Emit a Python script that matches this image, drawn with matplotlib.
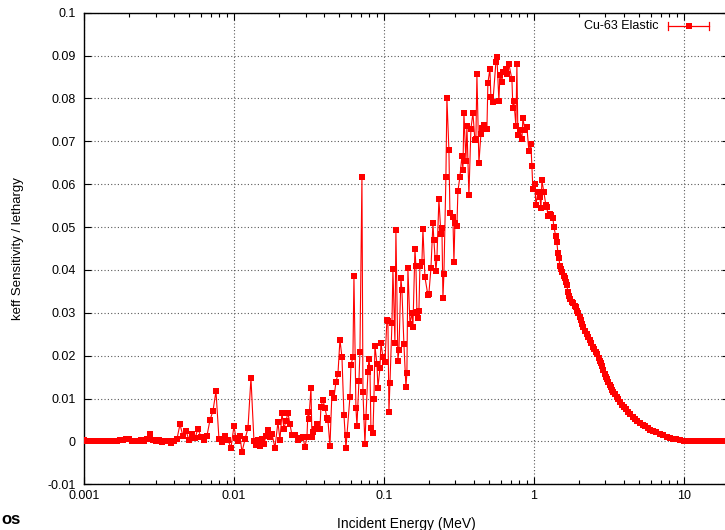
import numpy as np
import matplotlib

matplotlib.use("Agg")
import matplotlib.pyplot as plt
from matplotlib.lines import Line2D
from matplotlib.ticker import LogLocator, FuncFormatter, MultipleLocator, NullFormatter

plt.rcParams["font.family"] = ["Liberation Sans", "DejaVu Sans"]

# Cu-63 elastic keff sensitivity per unit lethargy, by incident energy (MeV)
energy_low = [0.001, 0.001047, 0.001096, 0.001148, 0.001202, 0.001259, 0.001318, 0.00138,
              0.001445, 0.001514, 0.001585, 0.00166, 0.001738, 0.00182, 0.001905, 0.001995,
              0.002089, 0.002188, 0.002291, 0.002399, 0.002512, 0.00263, 0.002754, 0.002884,
              0.00302, 0.003162, 0.003311, 0.003467, 0.003631, 0.003802, 0.003981, 0.004169,
              0.004365, 0.004571, 0.004786, 0.005012, 0.005248, 0.005495, 0.005754, 0.006026,
              0.00631, 0.006607, 0.006918, 0.007244, 0.007586, 0.007943, 0.008318, 0.00871,
              0.00912, 0.00955, 0.01]
sens_low = [0.0003, 0.0002, 0.0002, 0.0001, 0.0002, 0.0002, 0.0001, 0.0002, 0.0001, 0.0000,
            0.0002, 0.0001, 0.0003, 0.0004, 0.0006, 0.0005, 0.0002, 0.0001, 0.0000, 0.0003,
            0.0002, 0.0006, 0.0018, 0.0004, 0.0001, 0.0003, -0.0002, 0.0001, 0.0002, -0.0003,
            0.0002, 0.0006, 0.0040, 0.0012, 0.0025, 0.0003, 0.0018, 0.0007, 0.0030, 0.0010,
            0.0003, 0.0013, 0.0050, 0.0071, 0.0117, 0.0006, -0.0002, 0.0012, 0.0004, -0.0015,
            0.0036]

energy_b = [0.01031, 0.01063, 0.01097, 0.01131, 0.01184, 0.0124, 0.01298, 0.01359, 0.01402,
            0.01445, 0.01491, 0.01537, 0.01585, 0.01634, 0.01685, 0.01738, 0.01792, 0.01876,
            0.01965, 0.02026, 0.02089, 0.02154, 0.02222, 0.02291, 0.02362, 0.02436, 0.02551,
            0.02671, 0.02754]
sens_b = [0.0008, 0.0002, 0.0012, -0.0025, 0.0005, 0.0031, 0.0148, 0.0002, -0.0009, 0.0004,
          -0.0011, 0.0006, -0.0005, 0.0012, 0.0027, 0.0010, 0.0018, -0.0015, 0.0045, 0.0003,
          0.0066, 0.0030, 0.0048, 0.0066, 0.0040, 0.0015, 0.0015, 0.0003, 0.0008]

energy_c = [0.02884, 0.02974, 0.03067, 0.03114, 0.03162, 0.03261, 0.03311, 0.03363, 0.03467,
            0.03576, 0.03744, 0.03802, 0.0392, 0.04043, 0.04169, 0.04233, 0.04365, 0.04501,
            0.04642, 0.04786, 0.04935, 0.0509, 0.05248, 0.05412, 0.05581, 0.05667, 0.05934,
            0.06026, 0.06213, 0.0631, 0.06507, 0.06607, 0.06813, 0.06918, 0.07134, 0.07245,
            0.07471, 0.07586, 0.07822, 0.07943, 0.08066, 0.08191, 0.08446, 0.08577, 0.0871,
            0.08982, 0.0912, 0.09405, 0.0955, 0.09847]
sens_c = [0.0010, -0.0013, 0.0010, 0.0069, 0.0052, 0.0125, 0.0010, 0.0022, 0.0030, 0.0041,
          0.0029, 0.0081, 0.0097, 0.0078, 0.0055, 0.0050, -0.0011, 0.0113, 0.0101, 0.0139,
          0.0157, 0.0237, 0.0197, 0.0062, -0.0015, 0.0015, 0.0104, 0.0178, 0.0197, 0.0386,
          0.0078, 0.0036, 0.0141, 0.0208, 0.0616, 0.0115, -0.0006, 0.0057, 0.0162, 0.0192,
          0.0171, 0.0031, 0.0020, 0.0099, 0.0223, 0.0181, 0.0125, 0.0171, 0.0230, 0.0197]

energy_d = [0.1016, 0.1047, 0.1063, 0.108, 0.1097, 0.1131, 0.1148, 0.1184, 0.1202, 0.124,
            0.1259, 0.1298, 0.1318, 0.1359, 0.1402, 0.1423, 0.1445, 0.1491, 0.1537, 0.1561,
            0.161, 0.1634, 0.166, 0.1685, 0.1711, 0.1738, 0.1792, 0.182, 0.1877, 0.1965,
            0.1995, 0.2058, 0.2122, 0.2154, 0.2222, 0.2256, 0.2326, 0.2399, 0.2436, 0.2474,
            0.2512, 0.259, 0.263, 0.2712, 0.2754, 0.2884, 0.2929, 0.2974, 0.3067, 0.3114,
            0.3211]
sens_d = [0.0185, 0.0283, 0.0280, 0.0069, 0.0136, 0.0276, 0.0402, 0.0230, 0.0493, 0.0188,
          0.0213, 0.0381, 0.0353, 0.0227, 0.0127, 0.0160, 0.0404, 0.0274, 0.0300, 0.0267,
          0.0449, 0.0409, 0.0302, 0.0288, 0.0304, 0.0409, 0.0418, 0.0495, 0.0383, 0.0341,
          0.0345, 0.0404, 0.0509, 0.0469, 0.0397, 0.0428, 0.0565, 0.0484, 0.0498, 0.0335,
          0.0390, 0.0617, 0.0801, 0.0680, 0.0533, 0.0523, 0.0418, 0.0509, 0.0502, 0.0584,
          0.0617]

energy_e = [0.3311, 0.3363, 0.3415, 0.3521, 0.3576, 0.3687, 0.3802, 0.392, 0.4043, 0.4105,
            0.4169, 0.4299, 0.4433, 0.4501, 0.4642, 0.4861, 0.4935, 0.509, 0.5168, 0.5329,
            0.5581, 0.5667, 0.5843, 0.5934, 0.6119, 0.6213, 0.6507, 0.6607, 0.6813, 0.7134,
            0.7245, 0.7356, 0.7586, 0.7703, 0.7822, 0.8066, 0.8317, 0.8446, 0.871, 0.8982,
            0.9261, 0.955, 0.9698, 0.9847]
sens_e = [0.0666, 0.0633, 0.0766, 0.0654, 0.0736, 0.0574, 0.0729, 0.0766, 0.0703, 0.0705,
          0.0857, 0.0649, 0.0717, 0.0731, 0.0738, 0.0729, 0.0836, 0.0869, 0.0803, 0.0792,
          0.0885, 0.0897, 0.0794, 0.0855, 0.0839, 0.0862, 0.0869, 0.0857, 0.0880, 0.0845,
          0.0778, 0.0794, 0.0736, 0.0880, 0.0715, 0.0726, 0.0705, 0.0754, 0.0726, 0.0733,
          0.0677, 0.0694, 0.0642, 0.0589]

energy_high = [1.016, 1.031, 1.063, 1.097, 1.114, 1.131, 1.166, 1.202, 1.221, 1.24,
               1.278, 1.298, 1.339, 1.359, 1.402, 1.423, 1.445, 1.468, 1.491, 1.514,
               1.537, 1.585, 1.61, 1.634, 1.66, 1.685, 1.711, 1.738, 1.792, 1.82,
               1.877, 1.906, 1.935, 1.965, 2.026, 2.058, 2.089, 2.122, 2.188, 2.256,
               2.291, 2.362, 2.399, 2.474, 2.512, 2.59, 2.63, 2.712, 2.754, 2.797,
               2.84, 2.884, 2.974, 3.02, 3.067, 3.114, 3.211, 3.261, 3.311, 3.363,
               3.467, 3.576, 3.631, 3.744, 3.861, 3.981, 4.105, 4.233, 4.365, 4.571,
               4.714, 4.861, 5.09, 5.329, 5.495, 5.755, 5.934, 6.213, 6.507, 6.918,
               7.245, 7.703, 8.066, 8.446, 8.845, 9.405, 10.0, 10.63, 11.31, 12.02,
               12.78, 13.8, 14.9, 16.1, 17.38, 18.77, 19.65]
sens_high = [0.0600, 0.0551, 0.0581, 0.0570, 0.0544, 0.0609, 0.0581, 0.0551, 0.0547, 0.0526,
             0.0530, 0.0528, 0.0521, 0.0500, 0.0478, 0.0465, 0.0440, 0.0428, 0.0409, 0.0402,
             0.0395, 0.0386, 0.0381, 0.0372, 0.0365, 0.0348, 0.0340, 0.0332, 0.0326, 0.0323,
             0.0316, 0.0313, 0.0305, 0.0299, 0.0290, 0.0283, 0.0275, 0.0267, 0.0258, 0.0250,
             0.0244, 0.0236, 0.0230, 0.0220, 0.0215, 0.0209, 0.0203, 0.0195, 0.0188, 0.0183,
             0.0176, 0.0167, 0.0158, 0.0150, 0.0145, 0.0139, 0.0132, 0.0127, 0.0121, 0.0115,
             0.0110, 0.0104, 0.0099, 0.0092, 0.0086, 0.0080, 0.0075, 0.0069, 0.0064, 0.0057,
             0.0052, 0.0048, 0.0043, 0.0038, 0.0035, 0.0031, 0.0027, 0.0024, 0.0021, 0.0017,
             0.0014, 0.0010, 0.0008, 0.0006, 0.0005, 0.0003, 0.0002, 0.0002, 0.0001, 0.0001,
             0.0001, 0.0000, 0.0000, 0.0000, 0.0000, 0.0000, 0.0000]

x_ticks = [0.001, 0.01, 0.1, 1, 10]
x_tick_labels = ["0.001", "0.01", "0.1", "1", "10"]

RED = "#ff0000"

energy = np.array(energy_low + energy_b + energy_c + energy_d + energy_e + energy_high)
sens = np.array(sens_low + sens_b + sens_c + sens_d + sens_e + sens_high)

fig = plt.figure(figsize=(7.25, 5.30), dpi=100)
ax = fig.add_axes([84 / 725, 1 - 484.3 / 530, 645 / 725, 471.6 / 530])

ax.plot(energy, sens, color=RED, lw=0.8, marker="s", ms=5.0,
        markerfacecolor=RED, markeredgecolor=RED, mew=0, zorder=3)

ax.set_xscale("log")
ax.set_xlim(0.001, 20)
ax.set_ylim(-0.01, 0.1)

ax.set_xticks(x_ticks)
ax.set_xticklabels(x_tick_labels)
ax.xaxis.set_minor_locator(LogLocator(base=10, subs=np.arange(2, 10)))
ax.xaxis.set_minor_formatter(NullFormatter())
ax.yaxis.set_major_locator(MultipleLocator(0.01))
ax.yaxis.set_major_formatter(FuncFormatter(lambda v, _: "%g" % round(v, 4)))

ax.tick_params(which="both", direction="in", top=True, right=True,
               labelsize=9, colors="black")
ax.tick_params(which="major", length=5, width=0.8)
ax.tick_params(which="minor", length=3, width=0.8)
ax.tick_params(axis="x", pad=4)
ax.tick_params(axis="y", pad=6)

ax.grid(True, which="major", color="0.35", ls=(0, (1, 2)), lw=0.8, zorder=0)
for s in ax.spines.values():
    s.set_linewidth(1.0)

ax.set_xlabel("Incident Energy (MeV)", fontsize=10, labelpad=11)
ax.set_ylabel("keff Sensitivity / lethargy", fontsize=9.5, labelpad=17)

# gnuplot-style key: text on the left, error-bar sample on the right
ky = 0.972
ax.text(0.890, ky, "Cu-63 Elastic", transform=ax.transAxes, ha="right", va="center",
        fontsize=9)
ax.add_line(Line2D([0.9054, 0.969], [ky, ky], transform=ax.transAxes, color=RED, lw=0.9,
                   clip_on=False))
for cx in (0.9054, 0.969):
    ax.add_line(Line2D([cx, cx], [ky - 0.008, ky + 0.008], transform=ax.transAxes,
                       color=RED, lw=0.9, clip_on=False))
ax.add_line(Line2D([0.938], [ky], transform=ax.transAxes, marker="s", ms=5.0, mew=0,
                   color=RED, clip_on=False))

fig.text(1 / 725, 1 - 527 / 530, "os", fontsize=12, fontweight="bold", ha="left",
         va="bottom")

fig.savefig("out.png", dpi=100)
